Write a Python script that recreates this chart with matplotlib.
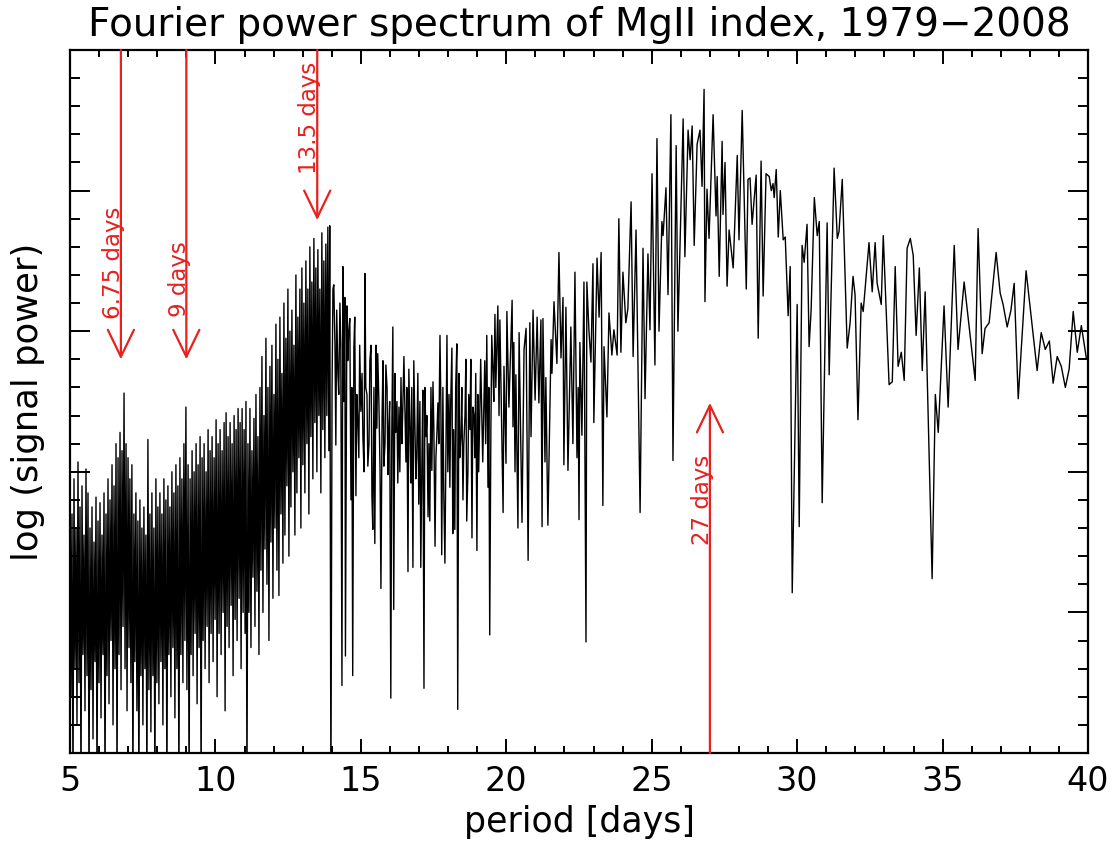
import numpy as np
import matplotlib
matplotlib.use('Agg')
import matplotlib.pyplot as plt
from matplotlib.ticker import MultipleLocator

plt.rcParams['font.family'] = ['DejaVu Sans']

# log power in axis units (bottom of frame = 0, top = 5); values below 0 run off the frame
# dense part (5 - 13.9 days): peak / trough values, evenly spaced in period over each range
dense_ranges = [(5.00, 7.03), (7.06, 9.02), (9.06, 11.02), (11.05, 13.90)]

dense_a = [2.05, 0.4, 1.7, -0.3, 1.95, 0.6, 1.6, 0.2, 2.07, 0.5, 1.75, -0.3,
           1.9, 0.7, 1.55, 0.3, 2.02, 0.55, 1.85, -0.3, 1.6, 0.45, 1.75, 0.1,
           1.5, 0.65, 1.82, -0.3, 1.65, 0.5, 1.78, 0.25, 1.55, 0.7, 1.85, -0.3,
           1.7, 0.55, 1.95, 0.35, 1.8, 0.8, 2.05, 0.2, 1.9, 0.6, 2.2, -0.3,
           2.1, 0.7, 2.28, 0.45, 2.15, 0.9, 2.56, 0.6, 2.2, 0.3, 2.1, 0.75]

dense_b = [1.95, 0.5, 2.05, -0.3, 1.7, 0.65, 1.85, 0.3, 1.65, -0.3, 1.8, 0.55,
           1.6, 0.2, 1.75, 0.6, 1.55, -0.3, 2.23, 0.45, 1.7, 0.15, 1.85, 0.55,
           1.6, -0.3, 1.95, 0.5, 1.75, 0.35, 1.85, 0.65, 1.7, 0.2, 1.95, 0.6,
           1.8, -0.3, 1.9, 0.7, 1.75, 0.4, 2.0, 0.75, 1.85, 0.25, 2.05, 0.6,
           1.9, -0.3, 2.1, 0.7, 1.95, 0.5, 2.2, 0.8, 2.46, 0.45]

dense_c = [2.05, -0.3, 1.95, 0.7, 2.15, 0.55, 2.0, 0.85, 2.2, 0.35, 2.05, 0.75,
           2.25, -0.3, 2.1, 0.8, 2.2, 0.6, 2.0, 0.9, 2.3, 0.5, 2.15, 0.85,
           2.25, 0.65, 2.1, 0.95, 2.37, 0.4, 2.2, 0.85, 2.3, 0.7, 2.15, 1.0,
           2.35, 0.3, 2.42, 0.9, 2.25, 0.75, 2.35, 1.05, 2.2, 0.55, 2.4, 0.95,
           2.3, 0.8, 2.45, 1.1, 2.35, 0.6, 2.45, 1.0, 2.3, 0.85]

dense_d = [2.5, -0.3, 2.2, 1.0, 2.45, 0.75, 2.15, 1.25, 2.38, 0.9, 2.55, 1.15,
           2.25, 0.7, 2.6, 1.3, 2.82, 1.0, 2.4, 1.45, 2.95, 1.2, 2.6, 0.8,
           2.75, 1.5, 2.9, 1.1, 2.55, 1.6, 3.05, 1.3, 2.8, 1.12, 3.1, 1.7,
           2.7, 1.35, 3.2, 1.55, 2.95, 1.9, 3.3, 1.4, 3.0, 1.75, 3.15, 2.0,
           2.9, 1.55, 3.4, 1.85, 3.1, 2.1, 3.3, 1.6, 3.45, 2.05, 3.2, 1.85,
           3.5, 2.2, 3.3, 1.7, 3.6, 2.25, 3.35, 1.95, 3.66, 2.35, 3.45, 2.0,
           3.58, 2.4, 3.3, 1.85, 3.7, 2.3, 3.5, 2.1, 3.62, 2.4, 3.74, 2.15]

# resolved part: periods and log power read point by point
period_14_20 = [13.93, 13.97, 14.04, 14.07, 14.14, 14.17, 14.24, 14.31, 14.35, 14.38,
                14.45, 14.47, 14.52, 14.55, 14.62, 14.66, 14.72, 14.76, 14.83, 14.86,
                14.93, 15.00, 15.07, 15.14, 15.21, 15.24, 15.31, 15.38, 15.41, 15.48,
                15.55, 15.58, 15.69, 15.76, 15.79, 15.86, 15.93, 15.96, 16.03, 16.10,
                16.13, 16.20, 16.27, 16.31, 16.38, 16.44, 16.48, 16.55, 16.62, 16.65,
                16.72, 16.79, 16.82, 16.89, 16.96, 16.99, 17.06, 17.13, 17.17, 17.24,
                17.31, 17.37, 17.44, 17.48, 17.55, 17.61, 17.65, 17.72, 17.78, 17.85,
                17.89, 17.96, 18.03, 18.06, 18.13, 18.16, 18.23, 18.30, 18.33, 18.44,
                18.51, 18.58, 18.64, 18.71, 18.82, 18.85, 18.92, 18.99, 19.02, 19.09,
                19.16, 19.19, 19.26, 19.33, 19.37, 19.43, 19.50, 19.54, 19.61, 19.68,
                19.71]
power_14_20 = [3.75, -0.3, 3.30, 3.33, 2.19, 3.15, 2.55, 2.91, 0.48, 3.46,
               3.24, 0.69, 3.18, 2.79, 3.09, 1.80, 0.55, 2.88, 1.83, 2.55,
               2.10, 2.43, 2.25, 3.41, 2.55, 2.04, 2.79, 1.83, 1.59, 1.49,
               2.31, 2.84, 1.17, 2.79, 2.04, 2.76, 1.98, 2.31, 0.39, 3.03,
               1.02, 2.28, 1.92, 2.46, 2.67, 2.43, 2.82, 2.07, 1.29, 2.73,
               1.92, 1.32, 2.79, 1.95, 2.70, 1.77, 1.32, 2.58, 0.46, 2.25,
               1.68, 1.65, 2.01, 2.64, 1.47, 2.25, 2.49, 2.97, 1.41, 1.86,
               1.35, 2.97, 2.55, 1.89, 2.88, 1.56, 1.59, 2.91, 0.31, 2.25,
               1.80, 2.40, 1.65, 2.55, 1.53, 2.46, 2.10, 1.44, 2.55, 2.43,
               2.37, 2.07, 2.79, 2.97, 1.89, 0.84, 2.97, 2.73, 3.12, 2.94,
               3.18]

# in-between samples of the 14-20 day band
period_14_20_mid = [14.01, 14.11, 14.21, 14.28, 14.41, 14.50, 14.58, 14.69, 14.79, 14.89,
                    14.96, 15.04, 15.11, 15.17, 15.28, 15.35, 15.45, 15.52, 15.62, 15.66,
                    15.73, 15.83, 15.90, 15.99, 16.06, 16.17, 16.24, 16.34, 16.41, 16.51,
                    16.58, 16.69, 16.75, 16.86, 16.92, 17.03, 17.10, 17.20, 17.27, 17.34,
                    17.41, 17.51, 17.58, 17.68, 17.75, 17.82, 17.93, 17.99, 18.09, 18.19,
                    18.26, 18.37, 18.40, 18.47, 18.54, 18.61, 18.68, 18.75, 18.78, 18.89,
                    18.95, 19.05, 19.12, 19.23, 19.29, 19.40, 19.47, 19.57, 19.64, 19.75]
power_14_20_mid = [2.6, 2.9, 2.7, 3.2, 2.5, 2.3, 3.0, 2.6, 3.1, 2.4,
                   2.9, 2.7, 2.0, 2.6, 2.2, 2.9, 2.6, 2.9, 2.5, 2.0,
                   2.4, 2.2, 2.6, 2.5, 2.2, 2.7, 2.5, 2.0, 2.2, 2.5,
                   2.6, 2.3, 2.6, 2.3, 2.1, 2.5, 2.1, 2.6, 2.4, 2.2,
                   2.6, 2.3, 2.1, 2.2, 2.5, 2.6, 2.3, 2.0, 2.5, 2.3,
                   2.6, 2.7, 2.1, 2.6, 2.2, 2.8, 2.0, 2.3, 2.8, 2.4,
                   2.7, 2.0, 2.8, 2.5, 2.2, 2.6, 2.3, 2.5, 2.6, 2.4]

period_20_25 = [19.78, 19.89, 19.92, 19.99, 20.02, 20.09, 20.20, 20.23, 20.26, 20.30,
                20.33, 20.40, 20.44, 20.54, 20.61, 20.68, 20.75, 20.81, 20.85, 20.92,
                20.99, 21.06, 21.12, 21.19, 21.23, 21.26, 21.33, 21.36, 21.43, 21.54,
                21.57, 21.64, 21.74, 21.81, 21.88, 21.95, 21.98, 22.05, 22.12, 22.22,
                22.29, 22.36, 22.43, 22.47, 22.50, 22.53, 22.60, 22.67, 22.74, 22.77,
                22.84, 22.91, 22.98, 23.01, 23.12, 23.19, 23.26, 23.32, 23.36, 23.46,
                23.53, 23.63, 23.70, 23.81, 23.87, 23.94, 24.01, 24.11, 24.18, 24.29,
                24.36, 24.46, 24.60, 24.70]
power_20_25 = [3.08, 1.71, 2.75, 2.06, 3.14, 2.46, 3.22, 2.32, 2.92, 2.00,
               2.69, 1.60, 2.99, 1.64, 2.87, 3.02, 1.37, 3.06, 2.25, 3.15,
               2.51, 3.10, 2.49, 3.08, 1.61, 3.09, 2.07, 2.67, 1.62, 2.94,
               2.70, 3.21, 2.77, 3.56, 2.81, 3.24, 2.05, 3.17, 2.01, 3.03,
               2.20, 3.42, 2.10, 2.60, 1.66, 2.92, 2.26, 3.35, 0.79, 3.35,
               3.01, 2.78, 3.48, 2.35, 3.52, 3.10, 3.56, 1.76, 2.89, 2.39,
               3.13, 2.83, 3.01, 2.83, 3.80, 2.85, 3.42, 3.06, 3.16, 3.92,
               2.82, 3.72, 1.71, 3.59]

period_25_30 = [24.77, 24.87, 24.94, 25.01, 25.11, 25.18, 25.25, 25.35, 25.39, 25.49,
                25.56, 25.66, 25.73, 25.84, 25.90, 26.08, 26.14, 26.25, 26.32, 26.39,
                26.46, 26.56, 26.66, 26.73, 26.80, 26.83, 26.90, 26.97, 27.11, 27.21,
                27.25, 27.32, 27.42, 27.45, 27.52, 27.59, 27.66, 27.80, 27.94, 28.00,
                28.11, 28.25, 28.31, 28.38, 28.45, 28.59, 28.66, 28.76, 28.83, 28.93,
                29.04, 29.11, 29.17, 29.21, 29.28, 29.35, 29.42, 29.52, 29.59, 29.69,
                29.76]
power_25_30 = [2.52, 3.55, 3.01, 4.12, 2.76, 4.37, 3.00, 3.78, 3.68, 4.02,
               3.26, 4.54, 2.08, 4.32, 3.00, 4.51, 3.53, 4.43, 4.22, 4.46,
               3.61, 4.33, 4.43, 4.03, 4.72, 3.21, 4.01, 3.66, 4.54, 3.82,
               4.10, 3.39, 4.35, 3.83, 4.20, 3.32, 3.72, 3.45, 4.25, 3.65,
               4.57, 3.30, 4.08, 4.09, 3.76, 4.11, 2.95, 4.21, 3.25, 4.12,
               4.10, 4.00, 4.05, 3.95, 4.15, 3.67, 4.00, 3.65, 3.67, 3.11,
               3.46]

period_30_40 = [29.83, 30.00, 30.07, 30.17, 30.24, 30.34, 30.41, 30.48, 30.59, 30.69,
                30.76, 30.86, 31.03, 31.10, 31.27, 31.38, 31.44, 31.55, 31.72, 31.82,
                31.92, 31.99, 32.09, 32.20, 32.27, 32.47, 32.58, 32.68, 32.75, 32.89,
                32.96, 33.16, 33.27, 33.37, 33.47, 33.58, 33.68, 33.78, 33.89, 33.99,
                34.09, 34.20, 34.30, 34.40, 34.64, 34.75, 34.85, 35.05, 35.19, 35.40,
                35.53, 35.74, 36.12, 36.22, 36.36, 36.46, 36.60, 36.84, 36.98, 37.08,
                37.22, 37.35, 37.46, 37.60, 37.87, 38.01, 38.25, 38.39, 38.53, 38.67,
                38.80, 38.94, 39.08, 39.22, 39.35, 39.49, 39.63, 39.77, 39.94]
power_30_40 = [1.14, 3.19, 1.61, 3.61, 3.49, 3.76, 2.89, 3.15, 3.95, 3.68,
               3.78, 1.78, 3.77, 2.69, 4.16, 3.66, 3.71, 4.08, 2.88, 3.06,
               3.39, 3.26, 2.37, 3.20, 3.14, 3.63, 3.28, 3.63, 3.34, 3.19,
               3.68, 2.62, 2.64, 3.46, 2.75, 2.85, 2.65, 3.59, 3.66, 3.54,
               2.97, 3.45, 2.72, 3.28, 1.24, 2.55, 2.28, 3.18, 2.46, 3.61,
               2.87, 3.35, 2.65, 3.73, 2.84, 3.02, 3.06, 3.56, 3.27, 3.19,
               3.03, 3.15, 3.34, 2.52, 3.43, 3.17, 2.72, 2.99, 2.87, 2.93,
               2.63, 2.82, 2.75, 2.60, 2.73, 3.14, 2.85, 3.04, 2.81]

# marked periods
arrow_periods = [6.75, 9.0, 13.5, 27.0]
arrow_labels = ['6.75 days', '9 days', '13.5 days', '27 days']
arrow_start = [5.0, 5.0, 5.0, 0.0]
arrow_tip = [2.80, 2.80, 3.79, 2.49]
label_base = [3.09, 3.10, 4.12, 1.48]

red = '#e8201e'

dense_sets = [dense_a, dense_b, dense_c, dense_d]
period = [np.linspace(lo, hi, len(v)) for (lo, hi), v in zip(dense_ranges, dense_sets)]
power = [np.array(v) for v in dense_sets]
period += [np.array(period_14_20), np.array(period_14_20_mid), np.array(period_20_25),
           np.array(period_25_30), np.array(period_30_40)]
power += [np.array(power_14_20), np.array(power_14_20_mid), np.array(power_20_25),
          np.array(power_25_30), np.array(power_30_40)]
period = np.concatenate(period)
power = np.concatenate(power)
order = np.argsort(period, kind='stable')
period = period[order]
power = power[order]

fig = plt.figure(figsize=(11.18, 8.49), dpi=100, facecolor='white')
ax = fig.add_axes([0.0626, 0.1131, 0.9106, 0.828])

ax.plot(period, power, color='black', lw=1.0)

for p, lab, y0, y1, yl in zip(arrow_periods, arrow_labels, arrow_start, arrow_tip, label_base):
    ax.annotate('', xy=(p, y1), xytext=(p, y0),
                arrowprops=dict(arrowstyle='->,head_length=0.97,head_width=0.47',
                                color=red, lw=1.6, shrinkA=0, shrinkB=0,
                                mutation_scale=20))
    ax.annotate(lab, xy=(p, yl), xytext=(3, 0), textcoords='offset points',
                rotation=90, ha='right', va='bottom', color=red, fontsize=16.5)

ax.set_xlim(5, 40)
ax.set_ylim(0, 5)
ax.xaxis.set_major_locator(MultipleLocator(5))
ax.xaxis.set_minor_locator(MultipleLocator(1))
ax.yaxis.set_major_locator(MultipleLocator(1))
ax.yaxis.set_minor_locator(MultipleLocator(0.2))
ax.tick_params(which='both', direction='in', top=True, right=True, width=1.4,
               labelleft=False, labelsize=24, pad=9)
ax.tick_params(axis='x', which='major', length=10)
ax.tick_params(axis='x', which='minor', length=5)
ax.tick_params(axis='y', which='major', length=14.4)
ax.tick_params(axis='y', which='minor', length=7.2)
for s in ax.spines.values():
    s.set_linewidth(1.6)

ax.set_xlabel('period [days]', fontsize=25, labelpad=5)
ax.set_ylabel('log (signal power)', fontsize=25.5, labelpad=18)
ax.set_title('Fourier power spectrum of MgII index, 1979\u22122008', fontsize=28, pad=10)

fig.savefig('out.png', dpi=100)
